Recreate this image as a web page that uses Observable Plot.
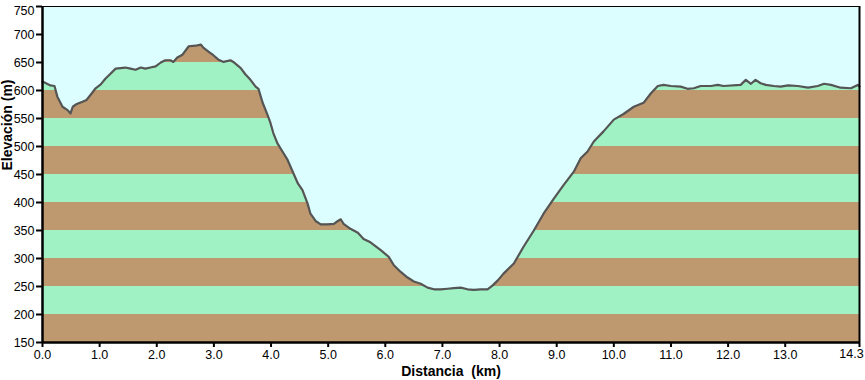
<!DOCTYPE html>
<html>
<head>
<meta charset="utf-8">
<script src="https://cdn.jsdelivr.net/npm/d3@7"></script>
<script src="https://cdn.jsdelivr.net/npm/@observablehq/plot@0.6"></script>
<style>
  html, body { margin: 0; padding: 0; background: #ffffff; }
</style>
</head>
<body>
<div id="chart"></div>
<script>
// Distance along the route (km)
const distKm = [0.00,0.14,0.21,0.26,0.35,0.44,0.49,0.53,0.60,0.70,0.77,0.84,0.93,1.02,1.10,1.19,1.28,1.37,1.45,1.54,1.63,1.72,1.80,1.89,1.98,2.07,2.15,2.24,2.29,2.36,2.45,2.56,2.68,2.77,2.82,2.91,2.99,3.08,3.17,3.29,3.34,3.47,3.55,3.64,3.73,3.78,3.85,3.94,3.99,4.04,4.11,4.20,4.29,4.38,4.47,4.55,4.64,4.69,4.78,4.87,4.99,5.10,5.17,5.22,5.27,5.39,5.52,5.62,5.74,5.92,6.06,6.15,6.27,6.39,6.50,6.62,6.74,6.85,6.97,7.09,7.20,7.32,7.44,7.55,7.67,7.79,7.88,7.97,8.07,8.25,8.42,8.60,8.77,8.95,9.12,9.30,9.42,9.54,9.65,9.82,10.00,10.17,10.35,10.52,10.65,10.77,10.87,11.00,11.17,11.29,11.40,11.52,11.70,11.82,11.92,12.22,12.31,12.40,12.48,12.57,12.66,12.80,12.92,13.05,13.22,13.40,13.57,13.68,13.80,13.97,14.15,14.27,14.30];
// Elevation (m)
const elevM = [616,609,608,589,571,565,559,571,576,580,583,592,604,611,621,630,639,640,641,639,637,641,639,641,643,650,654,654,651,659,664,679,680,682,676,669,663,655,651,654,651,640,629,619,607,603,579,556,542,524,506,491,476,455,434,422,398,380,367,361,361,362,367,370,362,353,346,335,329,315,303,288,276,266,259,255,248,245,245,246,247,248,245,244,245,245,252,261,273,291,321,350,380,407,431,455,479,491,509,527,548,558,571,578,595,608,610,608,607,603,604,608,608,610,608,610,619,612,619,613,610,608,607,609,608,605,608,612,610,605,604,610,607];

const yTicks = [150,200,250,300,350,400,450,500,550,600,650,700,750];
const xTicks = [0,1,2,3,4,5,6,7,8,9,10,11,12,13,14.3];
const bandBottoms = [150,200,250,300,350,400,450,500,550,600,650,700];
const xTitle = "Distancia\u00a0\u00a0(km)";
const yTitle = "Elevación (m)";

const BROWN = "#BE986E";
const GREEN = "#A0F2C4";
const SKY = "#DCFEFE";
const LINE = "#555555";

const profile = distKm.map((d, i) => ({d, e: elevM[i]}));
const bands = bandBottoms.map((b, i) => ({lo: b, hi: b + 50, brown: i % 2 === 0}));
const xMax = distKm[distKm.length - 1];
const yMax = yTicks[yTicks.length - 1];

const chart = Plot.plot({
  width: 865,
  height: 380,
  marginLeft: 42,
  marginRight: 6,
  marginTop: 6,
  marginBottom: 38,
  style: {fontFamily: "'Liberation Sans', Arial, sans-serif", fontSize: "12.5px", color: "#000", background: "#ffffff"},
  x: {domain: [0, xMax]},
  y: {domain: [150, yMax]},
  marks: [
    Plot.rect(bands.filter(b => b.brown), {x1: 0, x2: xMax, y1: "lo", y2: "hi", fill: BROWN}),
    Plot.rect(bands.filter(b => !b.brown), {x1: 0, x2: xMax, y1: "lo", y2: "hi", fill: GREEN}),
    Plot.areaY(profile, {x: "d", y1: "e", y2: yMax, fill: SKY}),
    Plot.lineY(profile, {x: "d", y: "e", stroke: LINE, strokeWidth: 2.2}),
    Plot.ruleY([yMax], {stroke: "#000", strokeWidth: 1}),
    Plot.ruleX([xMax], {stroke: "#000", strokeWidth: 2}),
    Plot.ruleX([0], {stroke: "#000", strokeWidth: 2.5}),
    Plot.ruleY([150], {stroke: "#000", strokeWidth: 2.5}),
    Plot.axisY({ticks: yTicks, tickSize: 6, tickPadding: 2, tickFormat: d => d === yMax ? "" : String(d), strokeWidth: 2, label: null}),
    Plot.text([yMax], {y: d => d, frameAnchor: "left", dx: -8, dy: 4, textAnchor: "end", text: d => String(d), fill: "#000"}),
    Plot.axisX({ticks: xTicks, tickSize: 5, tickPadding: 3, tickFormat: d => d === xMax ? "" : d.toFixed(1), strokeWidth: 2, label: null}),
    Plot.text([xMax], {x: d => d, frameAnchor: "bottom", dy: 15, dx: -8, text: d => d.toFixed(1), fill: "#000"}),
    Plot.text([xTitle], {frameAnchor: "bottom", dy: 33, text: d => d, fontWeight: "bold", fontSize: 14, fill: "#000"}),
    Plot.text([yTitle], {frameAnchor: "left", dx: -34.5, dy: -4, rotate: -90, text: d => d, fontWeight: "bold", fontSize: 14, fill: "#000"})
  ]
});
document.getElementById("chart").appendChild(chart);
</script>
</body>
</html>
